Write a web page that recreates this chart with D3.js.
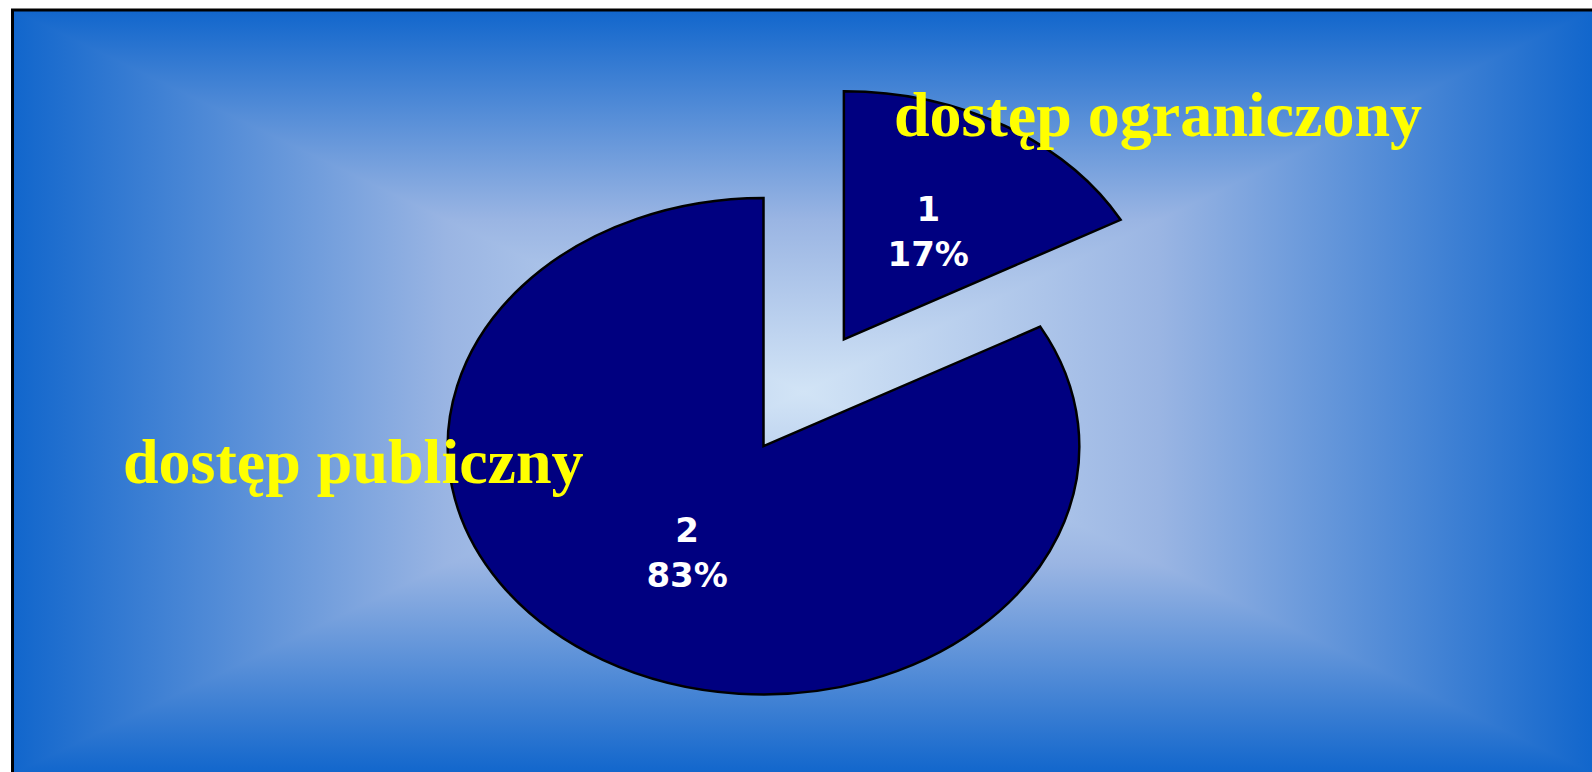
<!DOCTYPE html>
<html>
<head>
<meta charset="utf-8">
<script src="https://cdn.jsdelivr.net/npm/d3@7"></script>
<style>
  html, body { margin: 0; padding: 0; background: #fff; }
  svg { display: block; }
</style>
</head>
<body>
<svg id="chart" width="1592" height="772"></svg>
<script>
// chart data
const categories = ['1', '2'];
const shares = [17, 83];
const percentLabels = ['17%', '83%'];
const sliceNames = ['dostęp ograniczony', 'dostęp publiczny'];

const W = 1592, H = 772;
const svg = d3.select('#chart');

// frame with a rectangular "from center" gradient (four triangles)
const fx0 = 12.5, fy0 = 10, fx1 = 1594, fy1 = 774;
const gcx = 803, gcy = 392;
const edgeCol = '#1166cc', midCol = '#9ab5e3', centerCol = '#d2e4f6';
const defs = svg.append('defs');
function grad(id, x1, y1, x2, y2) {
  const g = defs.append('linearGradient').attr('id', id)
    .attr('gradientUnits', 'userSpaceOnUse')
    .attr('x1', x1).attr('y1', y1).attr('x2', x2).attr('y2', y2);
  g.append('stop').attr('offset', 0).attr('stop-color', edgeCol);
  g.append('stop').attr('offset', 0.55).attr('stop-color', midCol);
  g.append('stop').attr('offset', 1).attr('stop-color', centerCol);
}
grad('g-top', gcx, fy0, gcx, gcy);
grad('g-bot', gcx, fy1, gcx, gcy);
grad('g-left', fx0, gcy, gcx, gcy);
grad('g-right', fx1, gcy, gcx, gcy);

const tris = [
  ['g-top', [[fx0, fy0], [fx1, fy0], [gcx, gcy]]],
  ['g-bot', [[fx0, fy1], [fx1, fy1], [gcx, gcy]]],
  ['g-left', [[fx0, fy0], [fx0, fy1], [gcx, gcy]]],
  ['g-right', [[fx1, fy0], [fx1, fy1], [gcx, gcy]]]
];
svg.selectAll('polygon.bg').data(tris).enter().append('polygon')
  .attr('class', 'bg')
  .attr('points', d => d[1].map(p => p.join(',')).join(' '))
  .attr('fill', d => `url(#${d[0]})`)
  .attr('shape-rendering', 'crispEdges');
svg.append('rect').attr('x', fx0).attr('y', fy0)
  .attr('width', fx1 - fx0).attr('height', fy1 - fy0)
  .attr('fill', 'none').attr('stroke', '#000').attr('stroke-width', 3);

// pie (drawn as a circle, stretched horizontally)
const cx = 763.5, cy = 446.2, ry = 248.2, rx = 315.8;
const kx = rx / ry;
const explode = [0.5, 0];

const data = categories.map((c, i) => ({ cat: c, value: shares[i], pct: percentLabels[i] }));
const pie = d3.pie().sort(null).value(d => d.value);
const arcs = pie(data);
const arc = d3.arc().innerRadius(0).outerRadius(ry);

function offset(d, i) {
  const mid = (d.startAngle + d.endAngle) / 2;
  const r = explode[i] * ry;
  return [r * Math.sin(mid), -r * Math.cos(mid)];
}

const pieG = svg.append('g').attr('transform', `translate(${cx},${cy}) scale(${kx},1)`);
pieG.selectAll('path').data(arcs).enter().append('path')
  .attr('transform', (d, i) => { const o = offset(d, i); return `translate(${o[0]},${o[1]})`; })
  .attr('d', arc)
  .attr('fill', '#000080')
  .attr('stroke', '#000')
  .attr('stroke-width', 2.5)
  .attr('stroke-linejoin', 'miter')
  .attr('vector-effect', 'non-scaling-stroke');

// slice labels
const labelArc = d3.arc().innerRadius(0).outerRadius(ry);
arcs.forEach((d, i) => {
  const o = offset(d, i);
  const c = labelArc.centroid(d);
  const x = cx + (c[0] + o[0]) * kx + 4;
  const y = cy + c[1] + o[1];
  const t = svg.append('text')
    .attr('x', x).attr('y', y)
    .attr('text-anchor', 'middle')
    .attr('font-family', '"DejaVu Sans", Verdana, sans-serif')
    .attr('font-weight', 'bold')
    .attr('font-size', 34)
    .attr('fill', '#fff');
  t.append('tspan').attr('x', x).attr('y', y - 11.5).text(d.data.cat);
  t.append('tspan').attr('x', x).attr('y', y + 33.5).text(d.data.pct);
});

// yellow captions
const captionPos = [[894, 135.5], [123, 483]];
svg.selectAll('text.caption').data(sliceNames).enter().append('text')
  .attr('class', 'caption')
  .attr('x', (d, i) => captionPos[i][0])
  .attr('y', (d, i) => captionPos[i][1])
  .attr('font-family', '"Liberation Serif", "Times New Roman", serif')
  .attr('font-weight', 'bold')
  .attr('font-size', 64)
  .attr('fill', '#ffff00')
  .text(d => d);
</script>
</body>
</html>
